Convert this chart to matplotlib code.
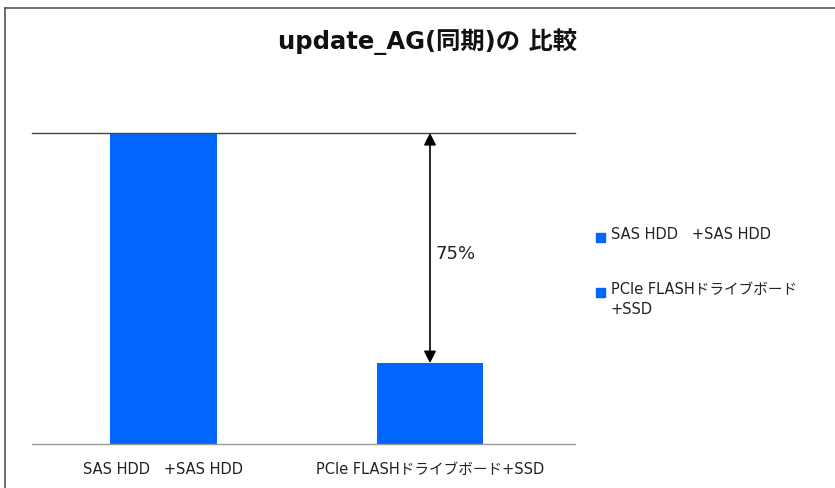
import matplotlib
matplotlib.use("Agg")
import matplotlib.pyplot as plt
from matplotlib.patches import Rectangle
from matplotlib.lines import Line2D

plt.rcParams['font.family'] = ['DejaVu Sans', 'Noto Sans CJK JP']

title = "update_AG(同期)の 比較"
categories = ["SAS HDD   +SAS HDD", "PCIe FLASHドライブボード+SSD"]
legend_labels = ["SAS HDD   +SAS HDD", "PCIe FLASHドライブボード\n+SSD"]
values = [100, 26]
diff_label = "75%"
bar_color = "#0066FF"

W, H = 835, 488
fig = plt.figure(figsize=(W / 100, H / 100), dpi=100)

# outer frame (top-left visible)
fig.add_artist(Line2D([5 / W, 1.0], [1 - 8 / H, 1 - 8 / H], transform=fig.transFigure,
                      color="#555555", linewidth=1.2))
fig.add_artist(Line2D([5 / W, 5 / W], [1 - 8 / H, 0.0], transform=fig.transFigure,
                      color="#555555", linewidth=1.2))

left, right, bottom, top = 32, 575, 444, 133
ax = fig.add_axes([left / W, 1 - bottom / H, (right - left) / W, (bottom - top) / H])
x = [0, 1]
ax.bar(x, values, width=0.4, color=bar_color, zorder=2)
ax.set_xlim(-0.493, 1.544)
ax.set_ylim(0, 100)
for s in ["left", "right", "top"]:
    ax.spines[s].set_visible(False)
ax.spines["bottom"].set_color("#999999")
ax.spines["bottom"].set_linewidth(1.0)
ax.axhline(values[0], color="#444444", linewidth=1.0, zorder=3, clip_on=False)
ax.set_yticks([])
ax.set_xticks(x)
ax.set_xticklabels(categories, fontsize=10.5, color="#222222")
ax.tick_params(axis="x", length=0, pad=13)

ax.annotate("", xy=(1, values[1]), xytext=(1, values[0]),
            arrowprops=dict(arrowstyle="<|-|>,head_length=0.55,head_width=0.28",
                            color="black", lw=1.2,
                            mutation_scale=13, shrinkA=0, shrinkB=0))
ax.text(1.02, 61, diff_label, fontsize=13,
        color="#222222", va="center", ha="left")

fig.text(428 / W, 1 - 42 / H, title, fontsize=17.5,
         fontweight="bold", ha="center", va="center", color="#111111")

# legend
for i, (lab, yy) in enumerate(zip(legend_labels, [235, 290])):
    fig.add_artist(Rectangle((596 / W, 1 - (yy + 7) / H), 9 / W, 9 / H,
                             transform=fig.transFigure, color=bar_color))
    fig.text(611 / W, 1 - (yy - 8) / H, lab, fontsize=10.5, ha="left", va="top",
             color="#222222", linespacing=1.45)

fig.savefig("out.png", dpi=100)
